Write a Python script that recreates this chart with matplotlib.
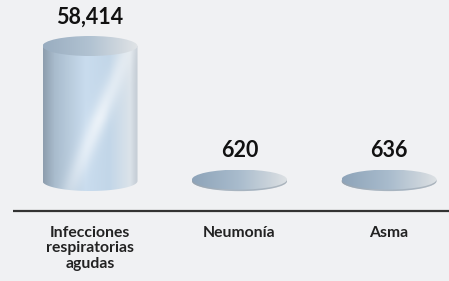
import numpy as np
import matplotlib.pyplot as plt
from matplotlib.patches import Ellipse, PathPatch
from matplotlib.path import Path
from matplotlib.colors import LinearSegmentedColormap

categories = ["Infecciones\nrespiratorias\nagudas", "Neumonía", "Asma"]
values = [58414, 620, 636]
value_labels = ["58,414", "620", "636"]

plt.rcParams['font.family'] = ['Lato', 'DejaVu Sans']

W, H = 449, 281
bg = "#f0f1f3"

fig = plt.figure(figsize=(W / 100, H / 100), dpi=100)
fig.patch.set_facecolor(bg)
ax = fig.add_axes([0, 0, 1, 1])
ax.set_facecolor(bg)
ax.axis("off")

# pixel layout (from top of image)
x0_px, step_px = 90, 149.5
base_px, top_px = 181, 46
scale = (base_px - top_px) / max(values)  # px per unit
ax.set_xlim(-x0_px / step_px, (W - x0_px) / step_px)
ax.set_ylim(-(H - base_px) / scale, base_px / scale)


def py(p):
    # pixel row -> data y
    return (base_px - p) / scale


w = 95 / step_px
eh = 20 / scale

body_cmap = LinearSegmentedColormap.from_list("body", [
    (0.0, "#8e9eae"), (0.12, "#a9bccd"), (0.45, "#c9dcee"),
    (0.7, "#c2d6e8"), (0.92, "#dbe3ea"), (1.0, "#c4ccd4")])
top_cmap = LinearSegmentedColormap.from_list("top", [
    (0.0, "#8ea4b9"), (0.5, "#a9bccd"), (0.85, "#cdd5dc"), (1.0, "#dde1e4")])

for i, v in enumerate(values):
    xl, xr = i - w / 2, i + w / 2
    # body: side rectangle + lower half ellipse
    t = np.linspace(np.pi, 2 * np.pi, 60)
    bottom = np.column_stack([i + w / 2 * np.cos(t), eh / 2 * np.sin(t)])
    verts = np.vstack([[xl, v], bottom, [xr, v], [xl, v]])
    patch = PathPatch(Path(verts), facecolor="none", edgecolor="none")
    ax.add_patch(patch)

    ny, nx = 200, 120
    u = np.linspace(0, 1, nx)[None, :]
    s = np.linspace(1, 0, ny)[:, None]
    img = body_cmap(np.repeat(u, ny, axis=0))[..., :3]
    glow = np.exp(-((u - (0.28 + 0.63 * s)) / 0.1) ** 2) * 0.65
    glow *= np.clip(1 - np.abs(s - 0.5) * 1.2, 0, 1)
    img = img + (1 - img) * glow[..., None]
    im = ax.imshow(img, extent=[xl, xr, -eh / 2, v], aspect="auto",
                   interpolation="bilinear", zorder=2)
    im.set_clip_path(patch)

    # shadow rim under the top for flat disks
    if v < max(values) * 0.1:
        ax.add_patch(Ellipse((i, v - eh * 0.08), w, eh, facecolor="#9aa4ae",
                             edgecolor="none", zorder=2.5, alpha=0.7))

    # top ellipse
    top = Ellipse((i, v), w, eh, facecolor="none", edgecolor="none")
    ax.add_patch(top)
    timg = top_cmap(np.repeat(np.linspace(0, 1, 120)[None, :], 40, axis=0))[..., :3]
    if v > max(values) * 0.5:
        timg = timg + (1 - timg) * 0.1
    tim = ax.imshow(timg, extent=[xl, xr, v - eh / 2, v + eh / 2], aspect="auto",
                    interpolation="bilinear", zorder=3)
    tim.set_clip_path(top)

    ax.annotate(value_labels[i], (i, v), xytext=(0, 29), textcoords="offset pixels",
                ha="center", va="center", fontsize=15.5, fontweight="bold",
                color="#111111", zorder=4)

    ax.text(i, py(226), categories[i], ha="center", va="top", fontsize=11.3,
            fontweight="bold", color="#222222", linespacing=1.12)

# baseline
ax.plot([ax.get_xlim()[0] + 13 / step_px, ax.get_xlim()[1]], [py(211), py(211)],
        color="#333333", lw=1.6, solid_capstyle="butt", zorder=1)

fig.savefig("out.png", dpi=100, facecolor=bg)
